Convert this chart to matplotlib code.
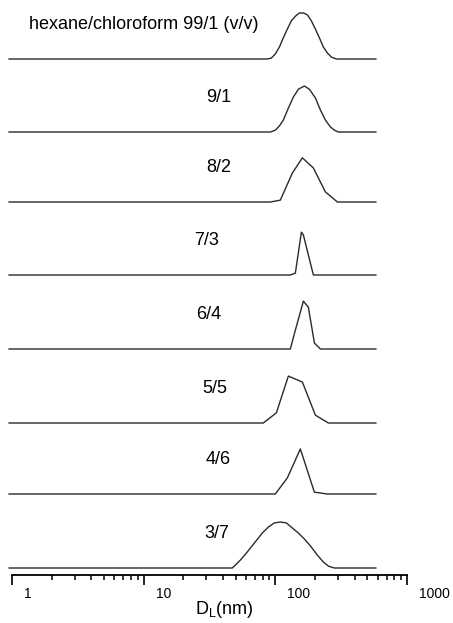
import matplotlib
matplotlib.use("Agg")
import matplotlib.pyplot as plt
import matplotlib.transforms as mtransforms

plt.rcParams['font.family'] = ['Liberation Sans', 'DejaVu Sans']
plt.rcParams['mathtext.fontset'] = 'custom'
plt.rcParams['mathtext.rm'] = 'Liberation Sans'

# ===== DATA (D in nm, intensity in %) =====
labels = ["hexane/chloroform 99/1 (v/v)", "9/1", "8/2", "7/3", "6/4", "5/5", "4/6", "3/7"]

d_991 = [86.96, 93.2, 100, 107.3, 115.0, 123.4, 132.3, 141.9, 152.2, 163.3, 175.1, 187.8, 201.5, 216.1, 231.7, 248.5, 266.7, 291]
i_991 = [0, 2, 11, 26, 46, 65, 83, 93, 100, 100, 96, 83, 65, 46, 26, 13, 4, 0]

d_91 = [91.6, 100, 107.3, 115, 125.6, 137.1, 149.6, 166.2, 181.4, 201.5, 219.9, 240.0, 262, 281, 301]
i_91 = [0, 4, 13, 26, 52, 76, 93, 100, 93, 74, 48, 26, 11, 4, 0]

d_82 = [91.6, 109.1, 134.7, 160.5, 194.5, 240, 296]
i_82 = [0, 4, 63, 96, 74, 22, 0]

d_73 = [130, 141.9, 157.7, 163.3, 194.5]
i_73 = [0, 4, 93, 87, 0]

d_64 = [130, 141.9, 163.3, 178.2, 198, 219.9]
i_64 = [0, 41, 104, 91, 13, 0]

d_55 = [81.0, 101.8, 125.6, 160.5, 201.5, 253]
i_55 = [0, 22, 102, 89, 17, 0]

d_46 = [100, 123.4, 154.9, 198, 248.5]
i_46 = [0, 35, 98, 4, 0]

d_37 = [47.1, 54.2, 61.3, 69.2, 79.6, 88.5, 98.3, 109.1, 121.2, 134.7, 149.6, 166.2, 184.6, 208.6, 231.7, 252.9, 281]
i_37 = [0, 17, 35, 54, 76, 89, 98, 100, 98, 87, 76, 63, 48, 28, 13, 4, 0]

series_d = [d_991, d_91, d_82, d_73, d_64, d_55, d_46, d_37]
series_i = [i_991, i_91, i_82, i_73, i_64, i_55, i_46, i_37]

d_min, d_max = 0.95, 580  # measured range of every trace
x_ticks = [1, 10, 100, 1000]
label_x = [10.1, 37, 37, 30, 31, 35, 37, 36]

# ===== LAYOUT =====
W, H = 453, 623
fig = plt.figure(figsize=(W / 100, H / 100), dpi=100)
ax = fig.add_axes([12 / W, 48 / H, 395 / W, 575 / H])
ax.set_xscale('log')
ax.set_xlim(1, 1000)
ax.set_ylim(0, 575)

baselines = [516, 443, 373, 300, 226, 152, 81, 7]
scale = 0.46  # px per % intensity

for k in range(len(labels)):
    xs = [d_min] + series_d[k] + [d_max]
    ys = [0] + series_i[k] + [0]
    ax.plot(xs, [baselines[k] + v * scale for v in ys], color='#2a2a2a', lw=1.0, clip_on=False)
    ax.text(label_x[k], baselines[k] + 30, labels[k], ha='center', va='baseline', fontsize=13)

# ===== AXIS =====
for s in ['left', 'right', 'top']:
    ax.spines[s].set_visible(False)
ax.spines['bottom'].set_linewidth(1.3)
ax.set_yticks([])
ax.set_xticks(x_ticks)
ax.set_xticklabels([])
ax.tick_params(axis='x', which='major', direction='out', length=7, width=1.2)
ax.tick_params(axis='x', which='minor', direction='out', length=3.6, width=1.1, labelbottom=False)

off = mtransforms.ScaledTranslation(12 / 100, -12 / 100, fig.dpi_scale_trans)
for t in x_ticks:
    ax.text(t, 0, str(t), transform=ax.get_xaxis_transform() + off,
            ha='left', va='top', fontsize=10)

fig.text(224.5 / W, 1 - 609 / H, r'D$_{\mathrm{L}}$(nm)', ha='center', va='center', fontsize=13)

fig.savefig('out.png', dpi=100)
